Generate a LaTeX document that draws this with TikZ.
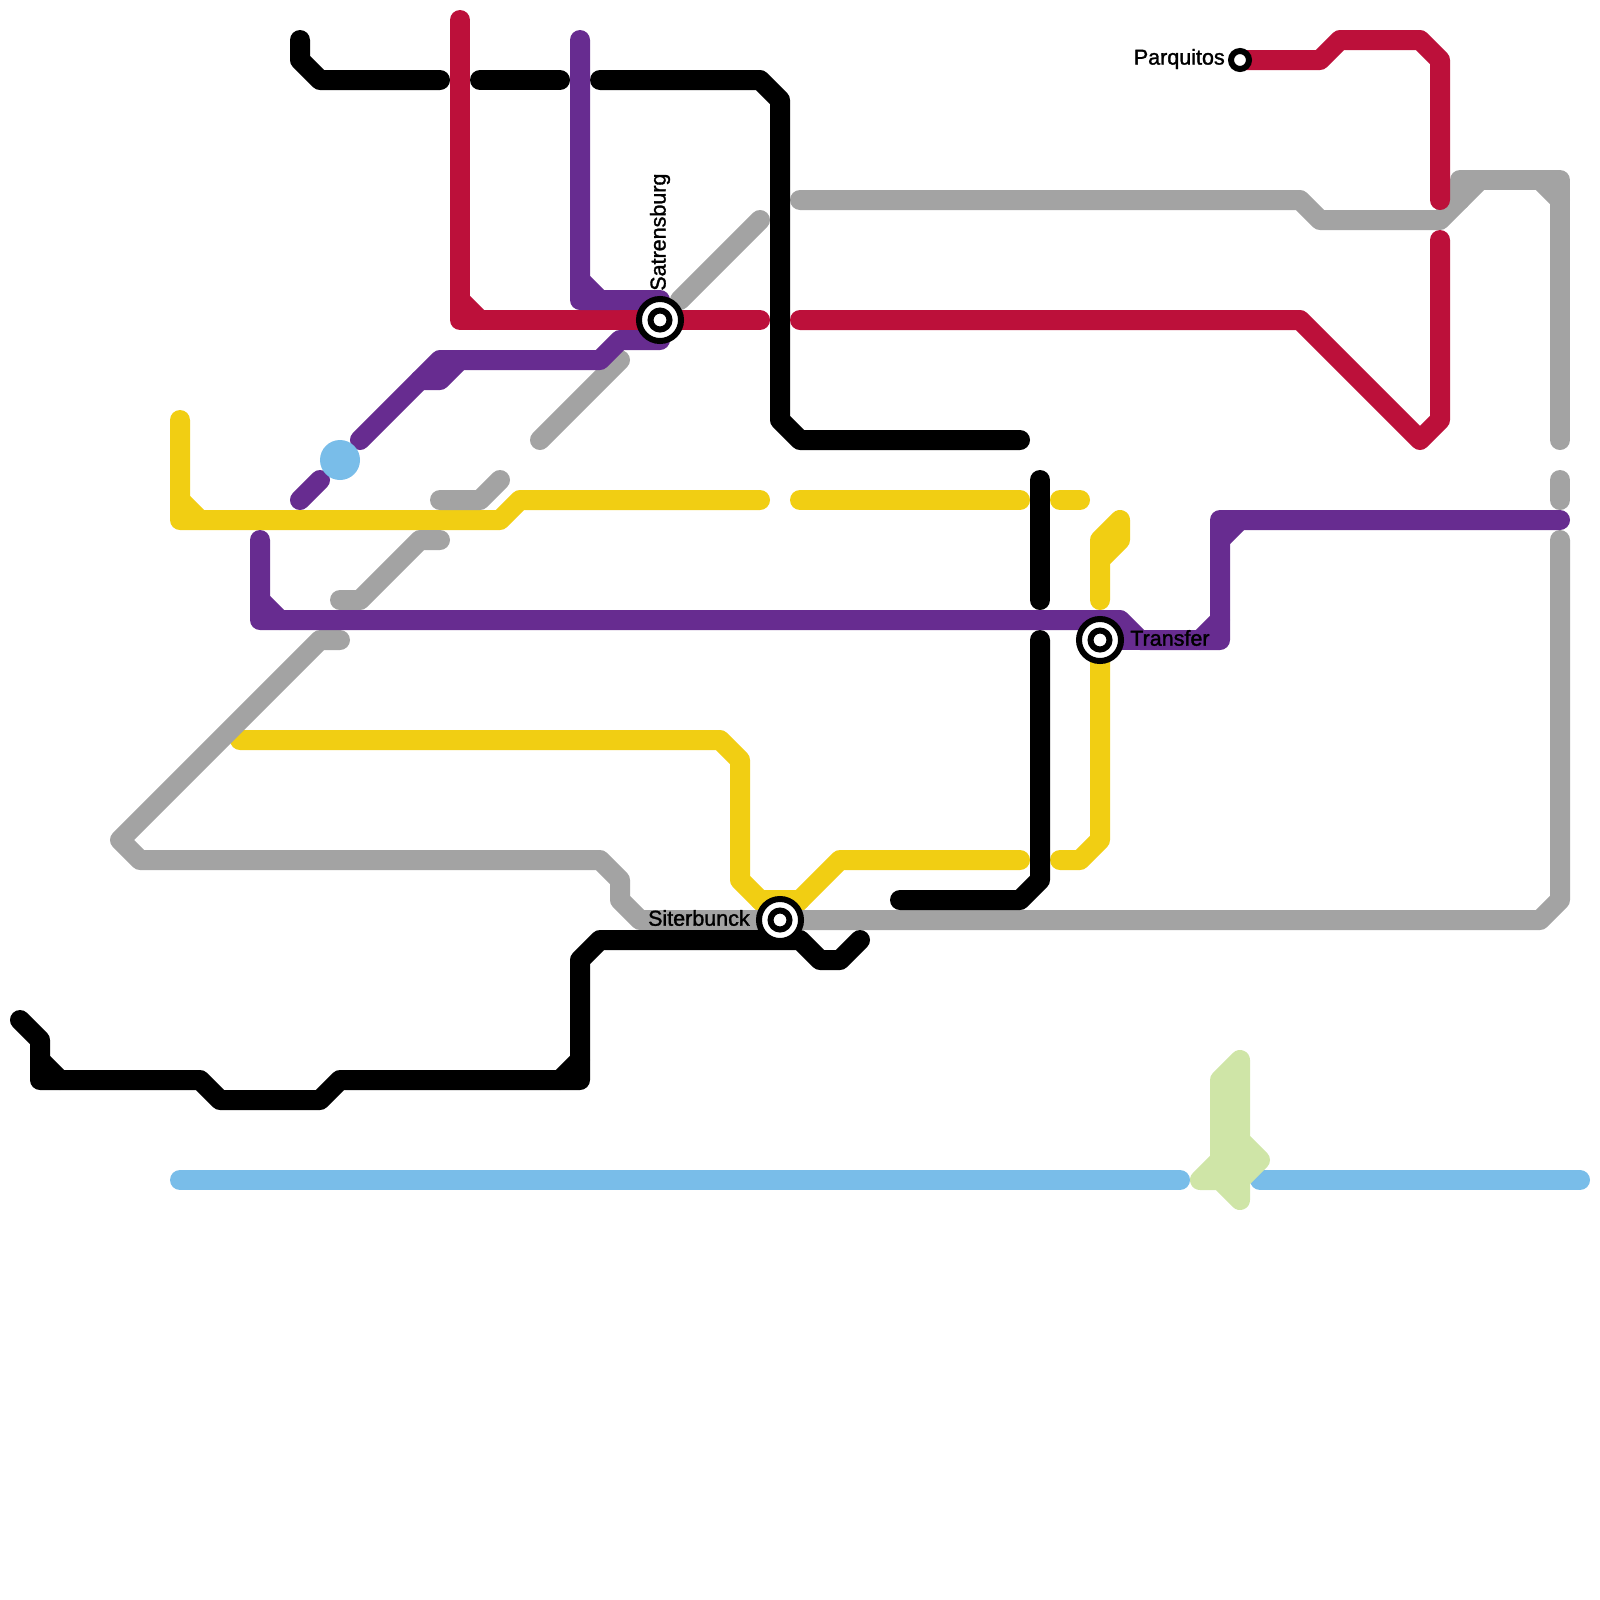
\documentclass[tikz,border=0pt]{standalone}
\usepackage{fontspec}
\newfontfamily\stationfont[FakeBold=1.5]{Liberation Sans}
\usetikzlibrary{positioning}
\definecolor{lineBlack}{RGB}{0,0,0}
\definecolor{lineRed}{RGB}{188,16,58}
\definecolor{linePurple}{RGB}{103,44,144}
\definecolor{lineGray}{RGB}{163,163,163}
\definecolor{lineYellow}{RGB}{241,206,19}
\definecolor{lineBlue}{RGB}{121,189,233}
\definecolor{lineGreen}{RGB}{207,229,167}
\tikzset{
  route/.style={line width=14.226pt, line cap=round, line join=round},
  ringbig/.style={circle, draw=black, fill=white, line width=4.27pt, inner sep=0pt, minimum size=29.9pt},
  ringmid/.style={circle, draw=black, fill=white, line width=4.27pt, inner sep=0pt, minimum size=13.5pt},
  ringsmall/.style={circle, draw=black, fill=white, line width=4.27pt, inner sep=0pt, minimum size=12.8pt},
  stationname/.style={inner sep=0pt, text=black, font=\stationfont\fontsize{15.3pt}{17pt}\selectfont},
}
\begin{document}
\begin{tikzpicture}[x=0.5cm,y=-0.5cm]
\useasboundingbox (0,0) rectangle (80,80);
% yellow
\draw[route,lineYellow] (9,21) -- (9,26) -- (25,26) -- (26,25) -- (38,25);
\draw[route,lineYellow] (9,25) -- (10,26);
\draw[route,lineYellow] (40,25) -- (51,25);
\draw[route,lineYellow] (53,25) -- (54,25);
\draw[route,lineYellow] (55,30) -- (55,27) -- (56,26) -- (56,27) -- (55,28);
\draw[route,lineYellow] (55,32) -- (55,42) -- (54,43) -- (53,43);
\draw[route,lineYellow] (51,43) -- (42,43) -- (39,46) -- (37,44) -- (37,38) -- (36,37) -- (12,37);
\draw[route,lineYellow] (38,45) -- (40,45);
% gray
\draw[route,lineGray] (34,15) -- (38,11);
\draw[route,lineGray] (27,22) -- (31,18);
\draw[route,lineGray] (22,25) -- (24,25) -- (25,24);
\draw[route,lineGray] (17,30) -- (18,30) -- (21,27) -- (22,27);
\draw[route,lineGray] (17,32) -- (16,32) -- (6,42) -- (7,43) -- (30,43) -- (31,44) -- (31,45) -- (32,46) -- (77,46) -- (78,45) -- (78,27);
\draw[route,lineGray] (78,24) -- (78,25);
\draw[route,lineGray] (40,10) -- (65,10) -- (66,11) -- (72,11) -- (74,9);
\draw[route,lineGray] (73,10) -- (73,9) -- (78,9) -- (78,22);
\draw[route,lineGray] (77,9) -- (78,10);
% black
\draw[route,lineBlack] (15,2) -- (15,3) -- (16,4) -- (22,4);
\draw[route,lineBlack] (24,4) -- (28,4);
\draw[route,lineBlack] (30,4) -- (38,4) -- (39,5) -- (39,21) -- (40,22) -- (51,22);
\draw[route,lineBlack] (52,24) -- (52,30);
\draw[route,lineBlack] (52,32) -- (52,44) -- (51,45) -- (45,45);
\draw[route,lineBlack] (43,47) -- (42,48) -- (41,48) -- (40,47) -- (30,47) -- (29,48) -- (29,54) -- (17,54) -- (16,55) -- (11,55) -- (10,54) -- (2,54) -- (2,52) -- (1,51);
\draw[route,lineBlack] (2,53) -- (3,54);
\draw[route,lineBlack] (28,54) -- (29,53);
% red
\draw[route,lineRed] (23,1) -- (23,16) -- (38,16);
\draw[route,lineRed] (23,15) -- (24,16);
\draw[route,lineRed] (40,16) -- (65,16) -- (71,22) -- (72,21) -- (72,12);
\draw[route,lineRed] (62,3) -- (66,3) -- (67,2) -- (71,2) -- (72,3) -- (72,10);
% purple
\draw[route,linePurple] (29,2) -- (29,15) -- (33,15) -- (33,17) -- (31,17) -- (30,18) -- (22,18) -- (18,22);
\draw[route,linePurple] (29,14) -- (30,15);
\draw[route,linePurple] (21,19) -- (22,19) -- (23,18);
\draw[route,linePurple] (15,25) -- (16,24);
\draw[route,linePurple] (13,27) -- (13,31) -- (56,31) -- (57,32) -- (61,32) -- (61,26) -- (78,26);
\draw[route,linePurple] (13,30) -- (14,31);
\draw[route,linePurple] (55,32) -- (57,32);
\draw[route,linePurple] (60,32) -- (61,31);
\draw[route,linePurple] (61,27) -- (62,26);
% red over purple at the station
\draw[route,lineRed,line cap=butt] (31,16) -- (36,16);
% blue
\draw[route,lineBlue] (9,59) -- (59,59);
\draw[route,lineBlue] (63,59) -- (79,59);
\fill[lineBlue] (17,23) circle (1);
% green
\draw[route,lineGreen,fill=lineGreen] (62,53) -- (62,57) -- (63,58) -- (62,59) -- (62,60) -- (61,59) -- (60,59) -- (61,58) -- (61,54) -- cycle;
% stations
\node[ringbig] (satrensburg) at (33,16) {};
\node[ringmid] at (satrensburg) {};
\node[ringbig] (siterbunck) at (39,46) {};
\node[ringmid] at (siterbunck) {};
\node[ringbig] (transfer) at (55,32) {};
\node[ringmid] at (transfer) {};
\node[ringsmall] (parquitos) at (62,3) {};
% names
\node[stationname, rotate=90, anchor=west] (satrensburgname) at (33,14.55) {Satrensburg};
\node[stationname, anchor=east] (siterbunckname) at (37.5,45.9) {Siterbunck};
\node[stationname, anchor=west] (transfername) at (56.5,31.9) {Transfer};
\node[stationname, anchor=east] (parquitosname) at (61.25,2.95) {Parquitos};
\end{tikzpicture}
\end{document}
